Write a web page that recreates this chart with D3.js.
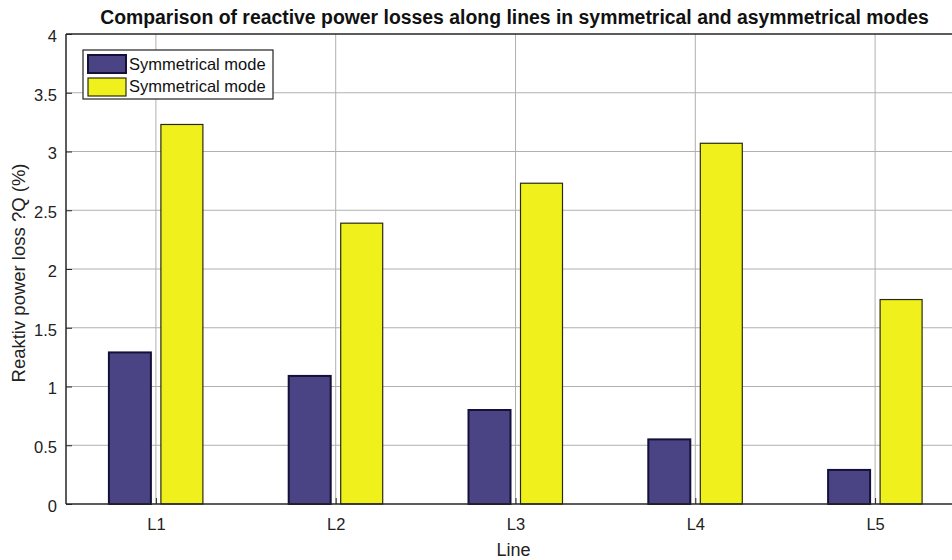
<!DOCTYPE html>
<html>
<head>
<meta charset="utf-8">
<script src="https://cdn.jsdelivr.net/npm/d3@7"></script>
<style>
  html, body { margin: 0; padding: 0; background: #fff; }
  svg { display: block; font-family: "Liberation Sans", Arial, Helvetica, sans-serif; }
</style>
</head>
<body>
<svg id="chart" width="952" height="560"></svg>
<script>
const categories = ["L1", "L2", "L3", "L4", "L5"];
const symmetrical = [1.29, 1.09, 0.80, 0.55, 0.29];
const asymmetrical = [3.23, 2.39, 2.73, 3.07, 1.74];
const seriesNames = ["Symmetrical mode", "Symmetrical mode"];
const yTicks = [0, 0.5, 1, 1.5, 2, 2.5, 3, 3.5, 4];
const titleText = "Comparison of reactive power losses along lines in symmetrical and asymmetrical modes";
const xLabel = "Line";
const yLabel = "Reaktiv power loss ?Q (%)";

(function () {
const colors = ["#4a4484", "#f0f01c"];
const edges = ["#14103a", "#2a2a10"];

const svg = d3.select("#chart");
const pL = 66, pR = 965, pT = 34, pB = 504;

const x = d3.scaleLinear().domain([0.5, 5.5]).range([pL, pR]);
const y = d3.scaleLinear().domain([0, 4]).range([pB, pT]);

const g = svg.append("g");

// grid
g.selectAll("line.hgrid").data(yTicks.slice(1, -1)).enter().append("line")
  .attr("x1", pL).attr("x2", pR)
  .attr("y1", d => y(d)).attr("y2", d => y(d))
  .attr("stroke", "#b0b0b0").attr("stroke-width", 1);
g.selectAll("line.vgrid").data(categories).enter().append("line")
  .attr("x1", (d, i) => x(i + 1)).attr("x2", (d, i) => x(i + 1))
  .attr("y1", pT).attr("y2", pB)
  .attr("stroke", "#b0b0b0").attr("stroke-width", 1);

// bars
const offset = 26, bw = 42;
const series = [symmetrical, asymmetrical];
series.forEach((vals, s) => {
  g.selectAll("rect.s" + s).data(vals).enter().append("rect")
    .attr("x", (d, i) => x(i + 1) + (s === 0 ? -offset : offset) - bw / 2)
    .attr("width", bw)
    .attr("y", d => y(d))
    .attr("height", d => y(0) - y(d))
    .attr("fill", colors[s])
    .attr("stroke", edges[s])
    .attr("stroke-width", s === 0 ? 2 : 1.2);
});

// axes
const yAxis = d3.axisLeft(y).tickValues(yTicks).tickSize(-6).tickPadding(9)
  .tickFormat(d => d3.format("")(d));
const ya = g.append("g").attr("transform", `translate(${pL},0)`).call(yAxis);
ya.select(".domain").remove();
ya.selectAll(".tick line").attr("stroke", "#262626");
ya.selectAll("text").attr("font-size", 16.5).attr("fill", "#222").attr("dy", "0.45em");

const xAxis = d3.axisBottom(x).tickValues([1, 2, 3, 4, 5]).tickSize(-6).tickPadding(14)
  .tickFormat(d => categories[d - 1]);
const xa = g.append("g").attr("transform", `translate(0,${pB})`).call(xAxis);
xa.select(".domain").remove();
xa.selectAll(".tick line").attr("stroke", "#262626");
xa.selectAll("text").attr("font-size", 16.5).attr("fill", "#222");

// box
g.append("line").attr("x1", pL).attr("x2", pR).attr("y1", pB).attr("y2", pB)
  .attr("stroke", "#262626").attr("stroke-width", 1.5);
g.append("line").attr("x1", pL).attr("x2", pR).attr("y1", pT).attr("y2", pT)
  .attr("stroke", "#262626").attr("stroke-width", 1.5);
g.append("line").attr("x1", pL).attr("x2", pL).attr("y1", pT).attr("y2", pB)
  .attr("stroke", "#262626").attr("stroke-width", 1.5);

// title
svg.append("text").attr("x", (pL + pR) / 2 - 1).attr("y", 24)
  .attr("text-anchor", "middle").attr("font-weight", "bold").attr("font-size", 19.4)
  .attr("fill", "#111").text(titleText);

// x label
svg.append("text").attr("x", (pL + pR) / 2 - 2).attr("y", 556)
  .attr("text-anchor", "middle").attr("font-size", 18).attr("fill", "#222").text(xLabel);

// y label
svg.append("text").attr("transform", `translate(25,${(pT + pB) / 2 + 4}) rotate(-90)`)
  .attr("text-anchor", "middle").attr("font-size", 18.5).attr("fill", "#222").text(yLabel);

// legend
const lg = svg.append("g").attr("transform", "translate(83,50)");
lg.append("rect").attr("width", 190).attr("height", 49)
  .attr("fill", "#fff").attr("stroke", "#222").attr("stroke-width", 1.2);
seriesNames.forEach((name, i) => {
  lg.append("rect").attr("x", 5).attr("y", 5 + i * 23).attr("width", 38).attr("height", 18)
    .attr("fill", colors[i]).attr("stroke", edges[i]).attr("stroke-width", i === 0 ? 2 : 1.2);
  lg.append("text").attr("x", 46).attr("y", 20 + i * 22)
    .attr("font-size", 16.5).attr("fill", "#111").text(name);
});
})();
</script>
</body>
</html>
